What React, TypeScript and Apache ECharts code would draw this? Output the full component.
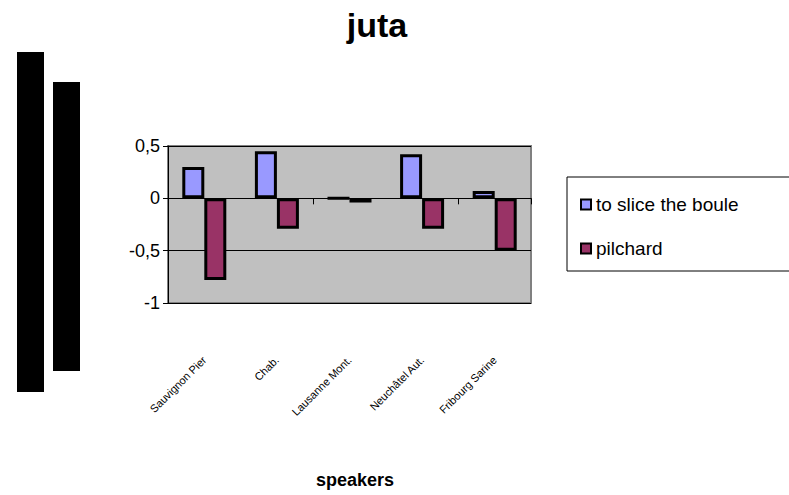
import React, { useEffect, useRef } from "react";
import * as echarts from "echarts";

const categories = ["Sauvignon Pier", "Chab.", "Lausanne Mont.", "Neuchâtel Aut.", "Fribourg Sarine"];
const seriesNames = ["to slice the boule", "pilchard"];
const sliceValues = [0.3, 0.45, 0, 0.42, 0.07];
const pilchardValues = [-0.78, -0.29, -0.04, -0.29, -0.5];
const yTicks = { min: -1, max: 0.5, interval: 0.5 };

export default function App() {
  const ref = useRef<HTMLDivElement>(null);
  useEffect(() => {
    document.body.style.margin = "0";
    const chart = echarts.init(ref.current!, null, { renderer: "svg" });
    const font = "Arial, 'Liberation Sans', sans-serif";
    chart.setOption({
      animation: false,
      backgroundColor: "#ffffff",
      title: {
        text: "juta",
        left: 372,
        top: 3,
        textAlign: "center",
        textStyle: { fontFamily: font, fontWeight: "bold", fontSize: 34, color: "#000" },
      },
      grid: {
        left: 168,
        top: 146,
        width: 363,
        height: 157,
        show: true,
        backgroundColor: "#c0c0c0",
        borderColor: "#808080",
        borderWidth: 2,
      },
      legend: {
        orient: "vertical",
        left: 575,
        top: 190,
        itemGap: 25,
        itemWidth: 10,
        itemHeight: 10,
        icon: "rect",
        data: seriesNames,
        textStyle: { fontFamily: font, fontSize: 19, color: "#000" },
      },
      xAxis: [
        {
          type: "category",
          data: categories,
          axisLine: { onZero: true, lineStyle: { color: "#000", width: 1 } },
          axisTick: { show: true, length: 6, lineStyle: { color: "#000" } },
          axisLabel: { show: false },
        },
        {
          type: "category",
          data: categories,
          position: "bottom",
          axisLine: { show: false },
          axisTick: { show: false },
          axisLabel: {
            rotate: 45,
            margin: 55,
            fontFamily: font,
            fontSize: 11,
            color: "#000",
            interval: 0,
          },
        },
      ],
      yAxis: {
        type: "value",
        min: yTicks.min,
        max: yTicks.max,
        interval: yTicks.interval,
        axisLine: { show: true, lineStyle: { color: "#000" } },
        axisTick: { show: true, length: 5, lineStyle: { color: "#000" } },
        axisLabel: {
          fontFamily: font,
          fontSize: 18,
          color: "#000",
          margin: 8,
          formatter: (v: number) => String(v).replace(".", ","),
        },
        splitLine: { show: true, lineStyle: { color: "#000", width: 1 } },
      },
      series: [
        {
          name: seriesNames[0],
          type: "bar",
          data: sliceValues,
          barWidth: 22,
          barGap: "0%",
          itemStyle: { color: "#9999ff", borderColor: "#000", borderWidth: 3 },
        },
        {
          name: seriesNames[1],
          type: "bar",
          data: pilchardValues,
          barWidth: 22,
          barGap: "0%",
          itemStyle: { color: "#993366", borderColor: "#000", borderWidth: 3 },
        },
      ],
      graphic: [
        { type: "rect", shape: { x: 17, y: 52, width: 27, height: 340 }, style: { fill: "#000" } },
        { type: "rect", shape: { x: 53, y: 82, width: 27, height: 289 }, style: { fill: "#000" } },
        {
          type: "rect",
          shape: { x: 567, y: 177, width: 240, height: 94 },
          style: { fill: "none", stroke: "#000", lineWidth: 1 },
        },
        {
          type: "text",
          x: 355,
          y: 480,
          style: {
            text: "speakers",
            fontFamily: font,
            fontWeight: "bold",
            fontSize: 18,
            fill: "#000",
            textAlign: "center",
            textVerticalAlign: "middle",
          },
        },
      ],
    });
    return () => chart.dispose();
  }, []);
  return <div ref={ref} style={{ width: 789, height: 495 }} />;
}
